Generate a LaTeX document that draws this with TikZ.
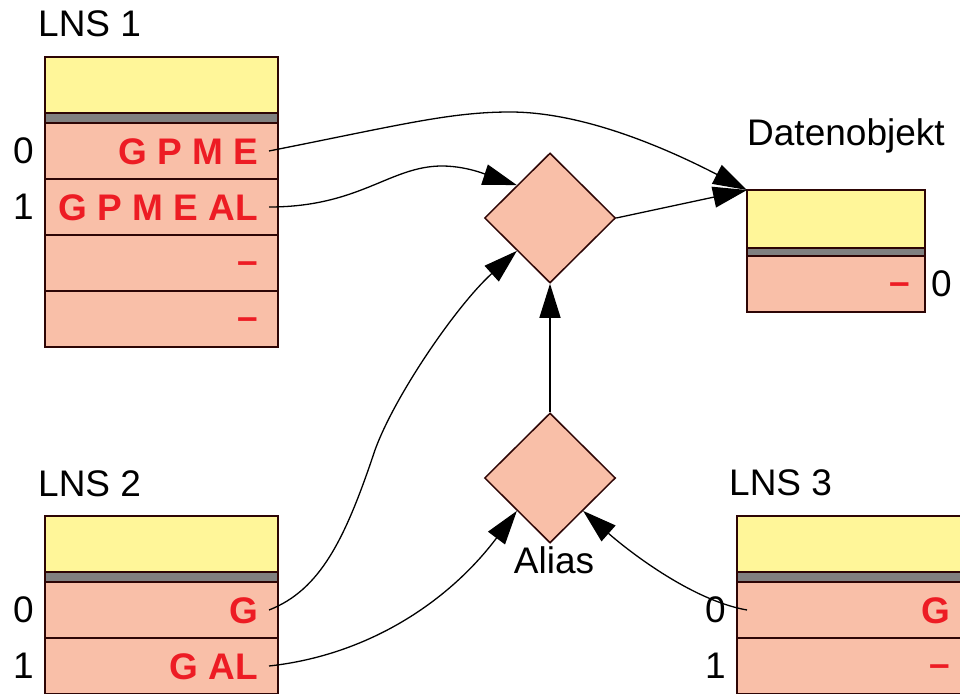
\documentclass[tikz,border=0pt]{standalone}
\usepackage{fontspec}
\setmainfont{Liberation Sans}
\usetikzlibrary{positioning,shapes.geometric,arrows.meta}
\definecolor{headyellow}{RGB}{255,246,153}
\definecolor{cellpink}{RGB}{249,191,168}
\definecolor{bandgray}{RGB}{128,128,128}
\definecolor{permred}{RGB}{237,28,36}
\definecolor{edgebrown}{RGB}{45,5,5}
\tikzset{
  head/.style={draw=edgebrown,fill=headyellow,line width=1.5pt,outer sep=0pt,inner sep=0pt,minimum width=233pt,minimum height=56pt},
  band/.style={head,fill=bandgray,minimum height=10pt},
  cell/.style={head,fill=cellpink,minimum height=56pt},
  perm/.style={text=permred,font=\fontsize{37}{44}\selectfont\bfseries,inner xsep=11pt,inner ysep=0pt,text height=26pt,text depth=0pt},
  blank/.style={perm,yshift=3pt},
  idx/.style={font=\fontsize{37}{44}\selectfont,inner sep=0pt},
  lbl/.style={font=\fontsize{37}{44}\selectfont,inner sep=0pt},
  gate/.style={diamond,draw=edgebrown,fill=cellpink,line width=1.5pt,inner sep=0pt,minimum width=131pt,minimum height=130pt},
  arr/.style={-{Triangle[length=34pt,width=21pt]},line width=1.3pt}
}
\begin{document}
\begin{tikzpicture}[x=1pt,y=-1pt]
\useasboundingbox (0,0) rectangle (960,693);
% LNS 1
\node[lbl,anchor=base west] (lns1) at (38,37) {LNS 1};
\node[head,anchor=north west] (l1h) at (45,57) {};
\node[band,below=0pt of l1h] (l1b) {};
\node[cell,below=0pt of l1b] (l1r0) {};
\node[cell,below=0pt of l1r0] (l1r1) {};
\node[cell,below=0pt of l1r1] (l1r2) {};
\node[cell,below=0pt of l1r2] (l1r3) {};
\node[perm,anchor=east] (l1p0) at ([xshift=-9pt]l1r0.east) {G P M E};
\node[perm,anchor=east] (l1p1) at ([xshift=-9pt]l1r1.east) {G P M E AL};
\node[blank,anchor=east] (l1p2) at ([xshift=-9pt]l1r2.east) {–};
\node[blank,anchor=east] (l1p3) at ([xshift=-9pt]l1r3.east) {–};
\node[idx,left=11pt of l1r0] (l1i0) {0};
\node[idx,left=11pt of l1r1] (l1i1) {1};
% LNS 2
\node[lbl,anchor=base west] (lns2) at (38,496) {LNS 2};
\node[head,anchor=north west] (l2h) at (45,516) {};
\node[band,below=0pt of l2h] (l2b) {};
\node[cell,below=0pt of l2b] (l2r0) {};
\node[cell,below=0pt of l2r0] (l2r1) {};
\node[perm,anchor=east] (l2p0) at ([xshift=-9pt]l2r0.east) {G};
\node[perm,anchor=east] (l2p1) at ([xshift=-9pt]l2r1.east) {G AL};
\node[idx,left=11pt of l2r0] (l2i0) {0};
\node[idx,left=11pt of l2r1] (l2i1) {1};
% LNS 3
\node[lbl,anchor=base west] (lns3) at (729,495) {LNS 3};
\node[head,anchor=north west] (l3h) at (737,516) {};
\node[band,below=0pt of l3h] (l3b) {};
\node[cell,below=0pt of l3b] (l3r0) {};
\node[cell,below=0pt of l3r0] (l3r1) {};
\node[perm,anchor=east] (l3p0) at ([xshift=-9pt]l3r0.east) {G};
\node[blank,anchor=east] (l3p1) at ([xshift=-9pt]l3r1.east) {–};
\node[idx,left=11pt of l3r0] (l3i0) {0};
\node[idx,left=11pt of l3r1] (l3i1) {1};
\coordinate (l3in) at ([xshift=10pt]l3r0.west);
% Datenobjekt
\node[lbl,anchor=base west] (datlbl) at (747,145) {Datenobjekt};
\node[head,anchor=north west,minimum width=178pt,minimum height=58pt] (dh) at (747,190) {};
\node[band,below=0pt of dh,minimum width=178pt,minimum height=8pt] (db) {};
\node[cell,below=0pt of db,minimum width=178pt] (dr0) {};
\node[blank,anchor=east] (dp0) at ([xshift=-4pt]dr0.east) {–};
\node[idx,right=6pt of dr0] (di0) {0};
% gates
\node[gate] (gup) at (550,218) {};
\node[gate] (glo) at (550,478) {};
\node[lbl,anchor=base] (alias) at (554,573) {Alias};
% connectors
\draw[arr] (l1p0.east) .. controls (400,125) and (450,112) .. (510,112) .. controls (580,112) and (660,145) .. (dh.north west);
\draw[arr] (l1p1.east) .. controls (360,207) and (390,166) .. (442,166) .. controls (470,166) and (495,178) .. (gup.north west);
\draw[arr] (gup.east) -- (dh.north west);
\draw[arr] (glo.north) -- (gup.south);
\draw[arr] (l2p0.east) .. controls (320,590) and (345,540) .. (375,450) .. controls (395,395) and (457,305) .. (gup.south west);
\draw[arr] (l2p1.east) .. controls (370,655) and (450,600) .. (glo.south west);
\draw[arr] (l3in) .. controls (690,600) and (625,548) .. (glo.south east);
\end{tikzpicture}
\end{document}
